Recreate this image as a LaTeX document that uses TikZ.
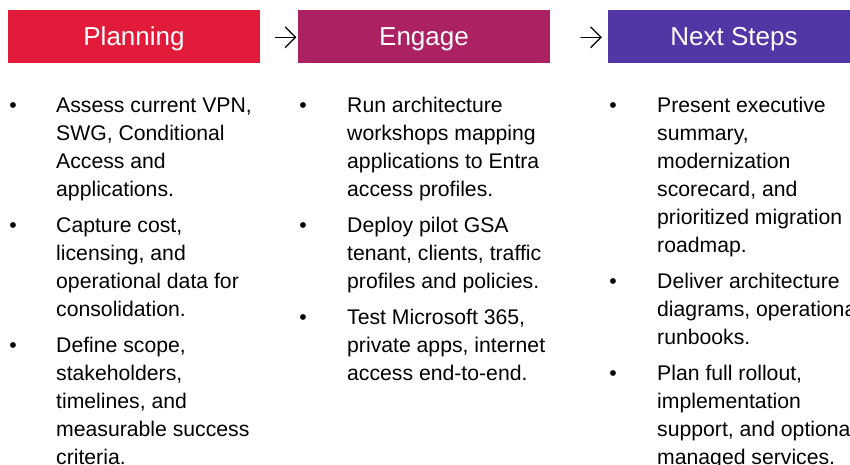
\documentclass[tikz,border=0pt]{standalone}
\usepackage{fontspec}
\setmainfont{Liberation Sans}
\usetikzlibrary{calc}
\definecolor{planred}{RGB}{227,27,59}
\definecolor{engmag}{RGB}{171,33,97}
\definecolor{nextpur}{RGB}{83,54,166}
\newcommand{\itemtext}[1]{\parbox[t]{320bp}{\raggedright #1}}
\tikzset{
  hdrbox/.style={rectangle, inner sep=0pt, minimum width=252bp, minimum height=53bp,
    text=white, font=\fontsize{26bp}{30bp}\selectfont, text height=18.6bp, text depth=0pt},
  bulletmark/.style={anchor=base, inner sep=0pt, font=\fontsize{21.2bp}{28bp}\selectfont},
  itembody/.style={anchor=base west, inner sep=0pt, font=\fontsize{21.2bp}{28bp}\selectfont},
  flowarrow/.style={line width=1.2bp, line cap=round, line join=miter}
}
\begin{document}
\begin{tikzpicture}[x=1bp,y=-1bp]
\useasboundingbox (0,0) rectangle (850,465);
\clip (0,0) rectangle (850,465);
\fill[white] (0,0) rectangle (850,465);

% headers
\node[hdrbox, fill=planred] (h1) at (134,36.5) {Planning};
\node[hdrbox, fill=engmag] (h2) at (424,36.5) {Engage};
\node[hdrbox, fill=nextpur] (h3) at (734,36.5) {Next Steps};

% arrows
\coordinate (a1s) at (275.5,37.3);
\coordinate (a1e) at (295.5,37.3);
\coordinate (a2s) at (581,37.3);
\coordinate (a2e) at (601,37.3);
\draw[flowarrow] (a1s) -- (a1e);
\draw[flowarrow] ($(a1e)+(-10.3,-10.3)$) -- (a1e) -- ($(a1e)+(-10.3,10.3)$);
\draw[flowarrow] (a2s) -- (a2e);
\draw[flowarrow] ($(a2e)+(-10.3,-10.3)$) -- (a2e) -- ($(a2e)+(-10.3,10.3)$);

% column 1
\node[bulletmark] (b11) at (13,112.5) {•};
\node[itembody] (t11) at (56,112.5) {\itemtext{Assess current VPN,\\SWG, Conditional\\Access and\\applications.}};
\node[bulletmark] (b12) at (13,232.5) {•};
\node[itembody] (t12) at (56,232.5) {\itemtext{Capture cost,\\licensing, and\\operational data for\\consolidation.}};
\node[bulletmark] (b13) at (13,352.5) {•};
\node[itembody] (t13) at (56,352.5) {\itemtext{Define scope,\\stakeholders,\\timelines, and\\measurable success\\criteria.}};

% column 2
\node[bulletmark] (b21) at (303,112.5) {•};
\node[itembody] (t21) at (347,112.5) {\itemtext{Run architecture\\workshops mapping\\applications to Entra\\access profiles.}};
\node[bulletmark] (b22) at (303,232.5) {•};
\node[itembody] (t22) at (347,232.5) {\itemtext{Deploy pilot GSA\\tenant, clients, traffic\\profiles and policies.}};
\node[bulletmark] (b23) at (303,324.5) {•};
\node[itembody] (t23) at (347,324.5) {\itemtext{Test Microsoft 365,\\private apps, internet\\access end-to-end.}};

% column 3
\node[bulletmark] (b31) at (613,112.5) {•};
\node[itembody] (t31) at (657,112.5) {\itemtext{Present executive\\summary,\\modernization\\scorecard, and\\prioritized migration\\roadmap.}};
\node[bulletmark] (b32) at (613,288.5) {•};
\node[itembody] (t32) at (657,288.5) {\itemtext{Deliver architecture\\diagrams, operational\\runbooks.}};
\node[bulletmark] (b33) at (613,380.5) {•};
\node[itembody] (t33) at (657,380.5) {\itemtext{Plan full rollout,\\implementation\\support, and optional\\managed services.}};
\end{tikzpicture}
\end{document}
